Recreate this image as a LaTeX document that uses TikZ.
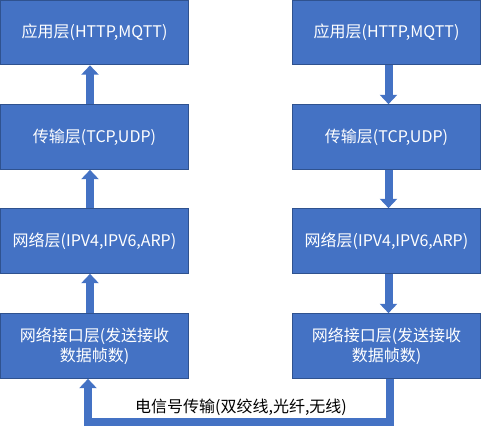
\documentclass[tikz,border=0pt]{standalone}
\usepackage{fontspec}
\setmainfont{Noto Sans CJK SC}
\usetikzlibrary{arrows.meta,positioning}
\definecolor{office}{RGB}{68,114,196}
\definecolor{officeline}{RGB}{47,82,143}
\tikzset{
  stackbox/.style={draw=officeline,fill=office,line width=0.75pt,text=white,
    minimum width=141pt,minimum height=48.5pt,align=center,inner sep=0pt,
    font=\fontsize{12pt}{15pt}\selectfont},
  flow/.style={-{Triangle[width=12.75pt,length=7pt]},line width=6pt,draw=office},
  tag/.style={font=\fontsize{12pt}{15pt}\selectfont,text=black},
}

\begin{document}
\begin{tikzpicture}[x=0.75pt,y=-0.75pt]
  \useasboundingbox (0,0) rectangle (481,427);
  % sender side
  \node[stackbox] (l1) at (94.5,32.5) {应用层(HTTP,MQTT)};
  \node[stackbox] (l2) at (94.5,137) {传输层(TCP,UDP)};
  \node[stackbox] (l3) at (94.5,241) {网络层(IPV4,IPV6,ARP)};
  \node[stackbox] (l4) at (94.5,346) {网络接口层(发送接收\\数据帧数)};
  % receiver side
  \node[stackbox] (r1) at (386.5,32.5) {应用层(HTTP,MQTT)};
  \node[stackbox] (r2) at (386.5,137) {传输层(TCP,UDP)};
  \node[stackbox] (r3) at (386.5,241) {网络层(IPV4,IPV6,ARP)};
  \node[stackbox] (r4) at (386.5,346) {网络接口层(发送接收\\数据帧数)};
  \coordinate (lx) at (90,0);
  \coordinate (rx) at (388.5,0);
  \foreach \a/\b in {l4/l3,l3/l2,l2/l1}
    \draw[flow] (\a.north -| lx) -- (\b.south -| lx);
  \foreach \a/\b in {r1/r2,r2/r3,r3/r4}
    \draw[flow] (\a.south -| rx) -- (\b.north -| rx);
  % physical link
  \coordinate (busr) at (390,422);
  \coordinate (busl) at (88,422);
  \draw[flow] (r4.south -| busr) -- (busr) -- (busl) -- (l4.south -| busl);
  \node[tag] (sig) at (241,407) {电信号传输(双绞线,光纤,无线)};
\end{tikzpicture}
\end{document}
